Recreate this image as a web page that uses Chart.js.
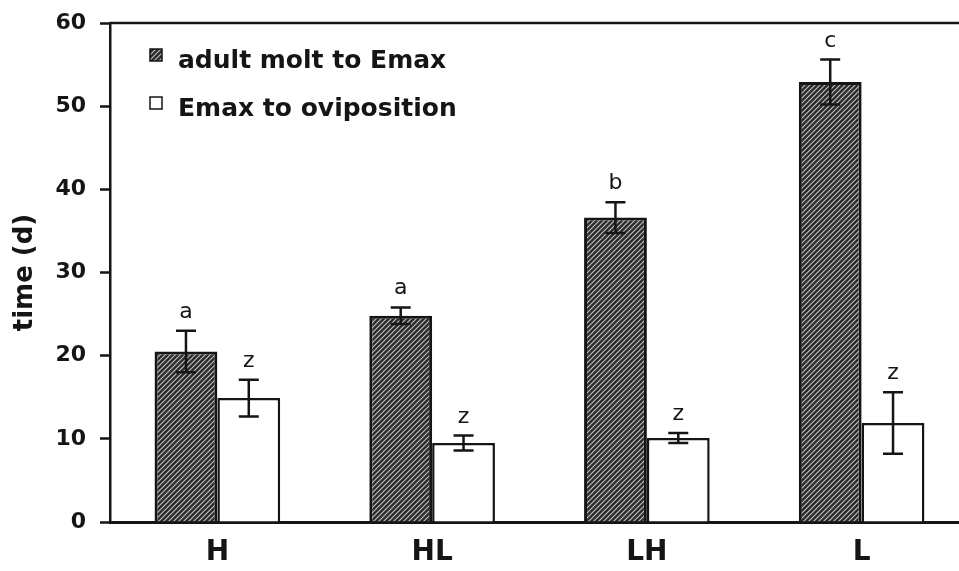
<!DOCTYPE html>
<html>
<head>
<meta charset="utf-8">
<script src="https://cdn.jsdelivr.net/npm/chart.js@4/dist/chart.umd.min.js"></script>
<style>
  html, body { margin: 0; padding: 0; background: #fff; overflow: hidden; }
  #wrap { position: absolute; left: 0; top: 0; width: 976px; height: 571px; }
</style>
</head>
<body>
<div id="wrap"><canvas id="chart" width="976" height="571"></canvas></div>
<script>
// data
const groups = ['H', 'HL', 'LH', 'L'];
const seriesNames = ['adult molt to Emax', 'Emax to oviposition'];
const moltToEmax = [20.5, 24.8, 36.6, 52.9];
const moltToEmaxErr = [2.5, 1.0, 1.85, 2.7];
const emaxToOvi = [14.9, 9.5, 10.1, 11.9];
const emaxToOviErr = [2.2, 0.9, 0.6, 3.7];
const moltLetters = ['a', 'a', 'b', 'c'];
const oviLetters = ['z', 'z', 'z', 'z'];
const yTicks = [0, 10, 20, 30, 40, 50, 60];

const INK = '#151515';
const FONT = '"DejaVu Sans", Arial, sans-serif';

function makeHatch() {
    const c = document.createElement('canvas');
    c.width = 5; c.height = 5;
    const g = c.getContext('2d');
    g.fillStyle = '#2b2b2b';
    g.fillRect(0, 0, 5, 5);
    g.strokeStyle = '#c4c4c4';
    g.lineWidth = 1.1;
    g.beginPath();
    g.moveTo(-1, 6); g.lineTo(6, -1);
    g.moveTo(-1, 1); g.lineTo(1, -1);
    g.moveTo(4, 6); g.lineTo(6, 4);
    g.stroke();
    return g.createPattern(c, 'repeat');
}
const hatch = makeHatch();

const errors = [moltToEmaxErr, emaxToOviErr];
const letters = [moltLetters, oviLetters];

const extrasPlugin = {
    id: 'extras',
    afterDatasetsDraw(chart) {
        const ctx = chart.ctx;
        const y = chart.scales.y;
        const area = chart.chartArea;
        ctx.save();
        // top frame line
        ctx.strokeStyle = INK;
        ctx.lineWidth = 2.5;
        ctx.beginPath();
        ctx.moveTo(area.left, area.top);
        ctx.lineTo(area.right, area.top);
        ctx.stroke();

        chart.data.datasets.forEach((ds, di) => {
            const meta = chart.getDatasetMeta(di);
            meta.data.forEach((bar, i) => {
                const v = ds.data[i];
                const e = errors[di][i];
                const yTop = y.getPixelForValue(v + e);
                const yBot = y.getPixelForValue(v - e);
                const x = bar.x;
                ctx.strokeStyle = INK;
                ctx.lineWidth = 2.5;
                ctx.beginPath();
                ctx.moveTo(x, yTop); ctx.lineTo(x, yBot);
                ctx.moveTo(x - 10, yTop); ctx.lineTo(x + 10, yTop);
                ctx.moveTo(x - 10, yBot); ctx.lineTo(x + 10, yBot);
                ctx.stroke();
                ctx.fillStyle = INK;
                ctx.font = '22px ' + FONT;
                ctx.textAlign = 'center';
                ctx.textBaseline = 'alphabetic';
                ctx.fillText(letters[di][i], x, yTop - 13);
            });
        });

        // legend inside the plot
        const rows = [{ y: 55, fill: hatch }, { y: 103, fill: '#fff' }];
        rows.forEach((r, i) => {
            ctx.fillStyle = r.fill;
            ctx.fillRect(150, r.y - 6, 12, 12);
            ctx.strokeStyle = INK;
            ctx.lineWidth = 1.5;
            ctx.strokeRect(150, r.y - 6, 12, 12);
            ctx.fillStyle = INK;
            ctx.font = 'bold 25px ' + FONT;
            ctx.textAlign = 'left';
            ctx.textBaseline = 'alphabetic';
            ctx.fillText(chart.data.datasets[i].label, 178, r.y + 13);
        });
        ctx.restore();
    }
};

new Chart(document.getElementById('chart'), {
    type: 'bar',
    data: {
        labels: groups,
        datasets: [
            {
                label: seriesNames[0],
                data: moltToEmax,
                backgroundColor: hatch,
                borderColor: INK,
                borderWidth: 3,
                categoryPercentage: 0.585,
                barPercentage: 1.0
            },
            {
                label: seriesNames[1],
                data: emaxToOvi,
                backgroundColor: '#ffffff',
                borderColor: INK,
                borderWidth: 2.5,
                categoryPercentage: 0.585,
                barPercentage: 1.0
            }
        ]
    },
    options: {
        responsive: false,
        animation: false,
        devicePixelRatio: 1,
        layout: { padding: { top: 23, right: 7, left: 0, bottom: 0 } },
        plugins: {
            legend: { display: false },
            tooltip: { enabled: false }
        },
        scales: {
            x: {
                grid: { display: false, drawTicks: false },
                border: { display: true, color: INK, width: 3 },
                ticks: {
                    color: INK,
                    padding: 14,
                    font: { family: FONT, size: 28, weight: 'bold' }
                },
                afterFit(scale) {
                    scale.height = 49;
                    scale.paddingLeft = 0;
                    scale.paddingRight = 0;
                }
            },
            y: {
                min: 0,
                max: 60,
                afterBuildTicks(scale) { scale.ticks = yTicks.map(v => ({ value: v })); },
                grid: {
                    drawOnChartArea: false,
                    drawTicks: true,
                    tickLength: 10,
                    tickColor: INK,
                    tickWidth: 2.5
                },
                border: { display: true, color: INK, width: 2.5 },
                ticks: {
                    color: INK,
                    padding: 14,
                    font: { family: FONT, size: 22, weight: 'bold' }
                },
                title: {
                    display: true,
                    text: 'time (d)',
                    color: INK,
                    padding: { top: 10, bottom: 0 },
                    font: { family: FONT, size: 26, weight: 'bold' }
                },
                afterFit(scale) {
                    scale.width = 110;
                    scale.paddingTop = 0;
                    scale.paddingBottom = 0;
                }
            }
        }
    },
    plugins: [extrasPlugin]
});
</script>
</body>
</html>
